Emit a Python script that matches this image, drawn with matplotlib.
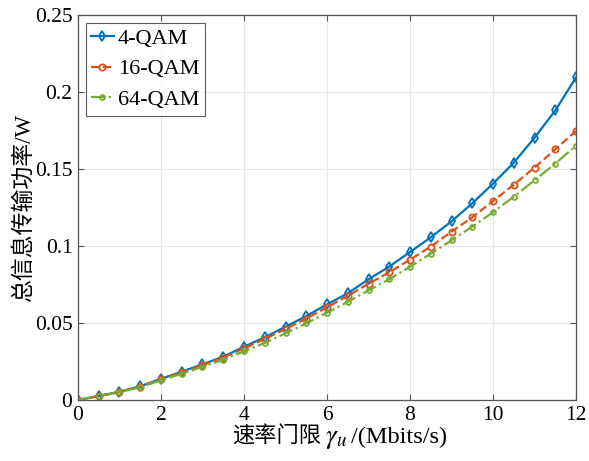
import numpy as np
import matplotlib
matplotlib.use("Agg")
import matplotlib.pyplot as plt

# Values (rate threshold vs total transmit power)
rate = np.arange(0, 12.01, 0.5)
power_4qam = [0, 0.0026, 0.0054, 0.0089, 0.0138, 0.0184, 0.0232, 0.0281, 0.0346,
              0.0407, 0.0476, 0.0545, 0.0621, 0.0693, 0.0784, 0.0866, 0.0961,
              0.1056, 0.1160, 0.1277, 0.1405, 0.1541, 0.1703, 0.1880, 0.2095]
power_16qam = [0, 0.0026, 0.0053, 0.0087, 0.0135, 0.0180, 0.0227, 0.0275, 0.0336,
               0.0396, 0.0461, 0.0529, 0.0602, 0.0676, 0.0755, 0.0829, 0.0911,
               0.0996, 0.1093, 0.1186, 0.1292, 0.1398, 0.1509, 0.1628, 0.1747]
power_64qam = [0, 0.0025, 0.0051, 0.0083, 0.0128, 0.0171, 0.0215, 0.0262, 0.0316,
               0.0371, 0.0433, 0.0497, 0.0567, 0.0637, 0.0712, 0.0784, 0.0866,
               0.0950, 0.1037, 0.1126, 0.1219, 0.1320, 0.1427, 0.1535, 0.1652]
labels = ["4-QAM", "16-QAM", "64-QAM"]
xticks = [0, 2, 4, 6, 8, 10, 12]
yticks = [0, 0.05, 0.1, 0.15, 0.2, 0.25]
ytick_labels = ["0", "0.05", "0.1", "0.15", "0.2", "0.25"]

plt.rcParams["font.family"] = ["Liberation Serif", "Noto Sans CJK SC"]
plt.rcParams["mathtext.fontset"] = "stix"

fig = plt.figure(figsize=(5.89, 4.61), dpi=100)
ax = fig.add_axes([0.1324, 0.1323, 0.8456, 0.8352])

ax.plot(rate, power_4qam, "-", color="#0072BD", lw=1.6, marker="d",
        ms=5, mfc="none", mew=1.3, label=labels[0])
ax.plot(rate, power_16qam, "--", color="#D95319", lw=1.6, marker="o",
        ms=4.5, mfc="none", mew=1.3, label=labels[1])
ax.plot(rate, power_64qam, "-.", color="#77AC30", lw=1.6, marker="o",
        ms=3.5, mfc="none", mew=1.3, label=labels[2])

ax.set_xlim(0, 12)
ax.set_ylim(0, 0.25)
ax.set_xticks(xticks)
ax.set_yticks(yticks)
ax.set_yticklabels(ytick_labels)
ax.tick_params(labelsize=15.5, direction="in", length=4, color="#555555",
               pad=4, top=True, right=True)
ax.grid(True, color="#e6e6e6", lw=0.8)
ax.set_axisbelow(True)
for side in ax.spines.values():
    side.set_color("#555555")
    side.set_linewidth(0.9)

# x label in three pieces (mathtext has no CJK glyphs, gamma is drawn larger)
base_y = 1 - 443 / 461
fig.text(232 / 589, base_y, "速率门限", fontsize=16,
         family="Noto Sans CJK SC", ha="left", va="baseline")
fig.text(325 / 589, base_y, r"$\gamma_u$", fontsize=19.5, ha="left", va="baseline")
fig.text(351 / 589, base_y, "/(Mbits/s)", fontsize=17.5, ha="left", va="baseline")
ax.set_ylabel("总信息传输功率/W", fontsize=16.5, labelpad=0)

leg = ax.legend(loc="upper left", fontsize=16, frameon=True, fancybox=False,
                edgecolor="#333333", handlelength=1.0, handletextpad=0.2,
                borderpad=0.25, labelspacing=0.45, borderaxespad=0.35)
leg.get_frame().set_linewidth(0.8)

fig.savefig("out.png", dpi=100)
